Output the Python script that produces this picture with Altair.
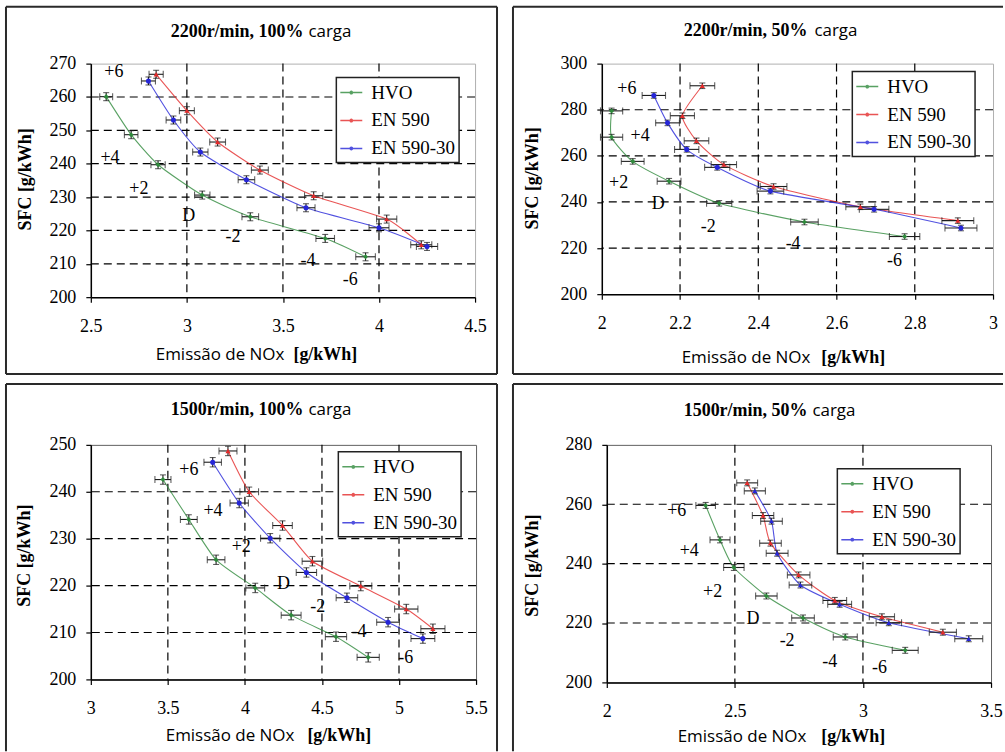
import altair as alt
import pandas as pd

SERIF = "Liberation Serif"
SANS = "Open Sans"
SERIES = ["HVO", "EN 590", "EN 590-30"]
COLORS = ["#2f8a3c", "#e42a2a", "#2626d8"]
TIMING = ["+6", "+4", "+2", "D", "-2", "-4", "-6"]

# ---- Panel 1: 2200 r/min, 100% ----
P1_HVO_X = [2.58, 2.71, 2.85, 3.08, 3.33, 3.72, 3.93]
P1_HVO_Y = [260.1, 248.7, 239.7, 230.6, 224.1, 217.6, 212.1]
P1_EN_X = [2.84, 3.00, 3.16, 3.38, 3.66, 4.04, 4.22]
P1_EN_Y = [266.8, 255.9, 246.5, 238.1, 230.4, 223.4, 215.7]
P1_EN30_X = [2.80, 2.93, 3.07, 3.31, 3.62, 4.00, 4.25]
P1_EN30_Y = [264.8, 253.1, 243.5, 235.2, 226.8, 220.8, 215.2]
P1_LBL_X = [2.62, 2.60, 2.75, 3.01, 3.24, 3.63, 3.85]
P1_LBL_Y = [267.4, 241.7, 232.5, 224.4, 217.9, 210.7, 205.0]

# ---- Panel 2: 2200 r/min, 50% ----
P2_HVO_X = [2.025, 2.025, 2.079, 2.172, 2.300, 2.518, 2.774]
P2_HVO_Y = [279.5, 268.1, 257.6, 249.0, 239.4, 231.3, 225.0]
P2_EN_X = [2.257, 2.206, 2.242, 2.312, 2.439, 2.661, 2.910]
P2_EN_Y = [290.4, 277.4, 266.5, 256.2, 246.7, 237.9, 231.9]
P2_EN30_X = [2.133, 2.168, 2.217, 2.295, 2.431, 2.696, 2.918]
P2_EN30_Y = [286.2, 274.3, 262.8, 255.0, 244.7, 236.8, 228.7]
P2_LBL_X = [2.064, 2.098, 2.043, 2.144, 2.272, 2.489, 2.748]
P2_LBL_Y = [288.8, 268.7, 248.3, 238.9, 229.2, 221.7, 214.2]

# ---- Panel 3: 1500 r/min, 100% ----
P3_HVO_X = [3.468, 3.636, 3.813, 4.067, 4.300, 4.591, 4.800]
P3_HVO_Y = [242.6, 234.1, 225.5, 219.5, 213.7, 209.1, 204.7]
P3_EN_X = [3.890, 4.028, 4.244, 4.438, 4.752, 5.047, 5.220]
P3_EN_Y = [248.7, 240.0, 232.8, 225.2, 219.9, 215.0, 210.8]
P3_EN30_X = [3.791, 3.963, 4.164, 4.399, 4.662, 4.929, 5.155]
P3_EN30_Y = [246.3, 237.6, 230.1, 222.8, 217.4, 212.2, 208.7]
P3_LBL_X = [3.636, 3.793, 3.976, 4.250, 4.472, 4.741, 5.043]
P3_LBL_Y = [244.7, 235.8, 228.3, 220.3, 215.4, 210.1, 204.5]

# ---- Panel 4: 1500 r/min, 50% ----
P4_HVO_X = [2.386, 2.442, 2.496, 2.623, 2.766, 2.931, 3.165]
P4_HVO_Y = [259.6, 248.0, 238.7, 229.1, 221.7, 215.3, 210.8]
P4_EN_X = [2.548, 2.610, 2.639, 2.749, 2.890, 3.074, 3.312]
P4_EN_Y = [267.2, 256.2, 246.9, 236.2, 227.6, 222.1, 216.9]
P4_EN30_X = [2.578, 2.643, 2.665, 2.756, 2.909, 3.101, 3.413]
P4_EN30_Y = [264.5, 254.3, 243.5, 232.8, 226.3, 220.1, 214.7]
P4_LBL_X = [2.273, 2.322, 2.413, 2.571, 2.704, 2.870, 3.065]
P4_LBL_Y = [257.7, 244.4, 230.6, 221.4, 213.8, 206.8, 204.8]

PANELS = [
    dict(title=("2200r/min, 100%", "carga"),
         xs=[P1_HVO_X, P1_EN_X, P1_EN30_X], ys=[P1_HVO_Y, P1_EN_Y, P1_EN30_Y],
         lx=P1_LBL_X, ly=P1_LBL_Y,
         xdom=[2.5, 4.5], ydom=[200, 270],
         xticks=[2.5, 3, 3.5, 4, 4.5], yticks=[200, 210, 220, 230, 240, 250, 260, 270],
         xgrid=[3, 3.5, 4], ygrid=[210, 220, 230, 240, 250, 260],
         shapes=["diamond", "triangle-up", "circle"], xerr=0.013, yerr=1.2,
         w=385, h=234, box=(-85, -57, 407, 311), sides="tlrb",
         legend=(246, 14), tpos=(213, 218, -27), xtpos=(194, 203, 63), ytpos=(-65, 116),
         vstroke="#b0b0b0"),
    dict(title=("2200r/min, 50%", "carga"),
         xs=[P2_HVO_X, P2_EN_X, P2_EN30_X], ys=[P2_HVO_Y, P2_EN_Y, P2_EN30_Y],
         lx=P2_LBL_X, ly=P2_LBL_Y,
         xdom=[2, 3], ydom=[200, 300],
         xticks=[2, 2.2, 2.4, 2.6, 2.8, 3], yticks=[200, 220, 240, 260, 280, 300],
         xgrid=[2.2, 2.4, 2.6, 2.8], ygrid=[220, 240, 260, 280],
         shapes=["diamond", "triangle-up", "circle"], xerr=0.014, yerr=1.2,
         w=392, h=231, box=(-89, -57, 402, 311), sides="tlb",
         legend=(251, 8), tpos=(206, 213, -28), xtpos=(209, 220, 69), ytpos=(-69, 115),
         vstroke="#b0b0b0"),
    dict(title=("1500r/min, 100%", "carga"),
         xs=[P3_HVO_X, P3_EN_X, P3_EN30_X], ys=[P3_HVO_Y, P3_EN_Y, P3_EN30_Y],
         lx=P3_LBL_X, ly=P3_LBL_Y,
         xdom=[3, 5.5], ydom=[200, 250],
         xticks=[3, 3.5, 4, 4.5, 5, 5.5], yticks=[200, 210, 220, 230, 240, 250],
         xgrid=[3.5, 4, 4.5, 5], ygrid=[210, 220, 230, 240],
         shapes=["diamond", "triangle-up", "circle"], xerr=0.015, yerr=1.0,
         w=386, h=235, box=(-85, -61, 407, 307), sides="tlr",
         legend=(248, 7), tpos=(213, 218, -30), xtpos=(204, 217, 62), ytpos=(-66, 111),
         vstroke="#606060"),
    dict(title=("1500r/min, 50%", "carga"),
         xs=[P4_HVO_X, P4_EN_X, P4_EN30_X], ys=[P4_HVO_Y, P4_EN_Y, P4_EN30_Y],
         lx=P4_LBL_X, ly=P4_LBL_Y,
         xdom=[2, 3.5], ydom=[200, 280],
         xticks=[2, 2.5, 3, 3.5], yticks=[200, 220, 240, 260, 280],
         xgrid=[2.5, 3], ygrid=[220, 240, 260],
         shapes=["diamond", "triangle-up", "triangle-up"], xerr=0.016, yerr=1.0,
         w=385, h=238, box=(-94, -61, 397, 307), sides="tl",
         legend=(231, 24), tpos=(201, 206, -29), xtpos=(200, 215, 60), ytpos=(-74, 121),
         vstroke="#606060"),
]

LEG_PATH = "M-1.1,0L1.1,0M-0.12,0A0.12,0.12,0,1,0,0.12,0A0.12,0.12,0,1,0,-0.12,0"
EB = "#1e1e1e"
DUMMY = pd.DataFrame({"d": [0]})


def text_layer(txt, x, y, font, size, weight="normal", align="left", angle=0, baseline="alphabetic"):
    return alt.Chart(DUMMY).mark_text(
        text=txt, font=font, fontSize=size, fontWeight=weight, align=align,
        baseline=baseline, angle=angle, color="black"
    ).encode(x=alt.value(x), y=alt.value(y))


def side(x1, y1, x2, y2):
    return alt.Chart(DUMMY).mark_rule(color="#2a2a2a", strokeWidth=2).encode(
        x=alt.value(x1), y=alt.value(y1), x2=alt.value(x2), y2=alt.value(y2))


def build_panel(p):
    rows = []
    for s, xs, ys in zip(SERIES, p["xs"], p["ys"]):
        for i, (x, y) in enumerate(zip(xs, ys)):
            rows.append(dict(series=s, idx=i, x=x, y=y,
                             xlo=x * (1 - p["xerr"]), xhi=x * (1 + p["xerr"]),
                             ylo=y - p["yerr"], yhi=y + p["yerr"]))
    df = pd.DataFrame(rows)
    lbl = pd.DataFrame(dict(x=p["lx"], y=p["ly"], t=TIMING))

    xsc = alt.Scale(domain=p["xdom"], nice=False, zero=False)
    ysc = alt.Scale(domain=p["ydom"], nice=False, zero=False)
    xaxis = alt.Axis(values=p["xticks"], format=".1~f", title=None, grid=False,
                     domainColor="black", domainWidth=1.5, tickColor="black",
                     tickSize=5, tickWidth=1.2, labelFont=SERIF, labelFontSize=18,
                     labelColor="black", labelPadding=15, labelFlush=False,
                     labelOverlap=False)
    yaxis = alt.Axis(values=p["yticks"], format="d", title=None, grid=False,
                     domainColor="black", domainWidth=1.5, tickColor="black",
                     tickSize=5, tickWidth=1.2, labelFont=SERIF, labelFontSize=18,
                     labelColor="black", labelPadding=10, labelFlush=False,
                     labelOverlap=False)

    def X(f):
        return alt.X(f, type="quantitative", scale=xsc, axis=xaxis, title=None)

    def Y(f):
        return alt.Y(f, type="quantitative", scale=ysc, axis=yaxis, title=None)

    legend = alt.Legend(title=None, orient="none", legendX=p["legend"][0],
                        legendY=p["legend"][1], strokeColor="#222", fillColor="white",
                        padding=4, symbolType=LEG_PATH, symbolSize=400,
                        symbolStrokeWidth=1.5, labelFont=SERIF, labelFontSize=19,
                        labelColor="black", rowPadding=7, labelOffset=9)

    gx = alt.Chart(pd.DataFrame({"v": p["xgrid"]})).mark_rule(
        color="black", strokeWidth=1.2, strokeDash=[8, 5]).encode(x=X("v"))
    gy = alt.Chart(pd.DataFrame({"v": p["ygrid"]})).mark_rule(
        color="black", strokeWidth=1.2, strokeDash=[8, 5]).encode(y=Y("v"))

    base = alt.Chart(df)
    line = base.mark_line(strokeWidth=1.1, interpolate="cardinal", tension=0.4, opacity=0.8).encode(
        x=X("x"), y=Y("y"),
        color=alt.Color("series:N", scale=alt.Scale(domain=SERIES, range=COLORS), legend=legend),
        order="idx:Q")
    xbar = base.mark_rule(color=EB, strokeWidth=1.1).encode(x=X("xlo"), x2="xhi", y=Y("y"))
    xcap1 = base.mark_tick(orient="vertical", size=7, thickness=1.1, color=EB).encode(x=X("xlo"), y=Y("y"))
    xcap2 = base.mark_tick(orient="vertical", size=7, thickness=1.1, color=EB).encode(x=X("xhi"), y=Y("y"))
    ybar = base.mark_rule(color=EB, strokeWidth=1.1).encode(x=X("x"), y=Y("ylo"), y2="yhi")
    ycap1 = base.mark_tick(orient="horizontal", size=6, thickness=1.1, color=EB).encode(x=X("x"), y=Y("ylo"))
    ycap2 = base.mark_tick(orient="horizontal", size=6, thickness=1.1, color=EB).encode(x=X("x"), y=Y("yhi"))
    pts = []
    for s, c, shp in zip(SERIES, COLORS, p["shapes"]):
        pts.append(base.transform_filter(alt.datum.series == s).mark_point(
            filled=True, size=26, opacity=1, shape=shp, color=c).encode(x=X("x"), y=Y("y")))
    labels = alt.Chart(lbl).mark_text(font=SERIF, fontSize=18, color="black",
                                      align="center", baseline="middle").encode(
        x=X("x"), y=Y("y"), text="t:N")

    bx, tx, ty = p["tpos"]
    xa, xb, xy = p["xtpos"]
    yx, yy = p["ytpos"]
    h = p["h"]
    texts = [
        text_layer(p["title"][0], bx, ty, SERIF, 18, "bold", "right"),
        text_layer(p["title"][1], tx, ty, SANS, 17, "normal", "left"),
        text_layer("Emissão de NOx", xa, h + xy, SANS, 17, "normal", "right"),
        text_layer("[g/kWh]", xb, h + xy, SERIF, 18, "bold", "left"),
        text_layer("SFC [g/kWh]", yx, yy, SERIF, 18, "bold", "center", 270, "middle"),
    ]
    L, T, R, B = p["box"]
    sides = []
    if "t" in p["sides"]:
        sides.append(side(L, T, R, T))
    if "l" in p["sides"]:
        sides.append(side(L, T, L, B))
    if "r" in p["sides"]:
        sides.append(side(R, T, R, B))
    if "b" in p["sides"]:
        sides.append(side(L, B, R, B))

    return alt.layer(
        gx, gy, line, xbar, xcap1, xcap2, ybar, ycap1, ycap2, *pts, labels, *texts, *sides
    ).properties(
        width=p["w"], height=p["h"],
        view=alt.ViewBackground(stroke=p["vstroke"], strokeWidth=1)
    )


panels = [build_panel(p) for p in PANELS]


def row(a, b):
    return alt.hconcat(a, b, spacing=12).resolve_scale(
        x="independent", y="independent"
    ).resolve_legend(color="independent")


chart = alt.vconcat(row(panels[0], panels[1]), row(panels[2], panels[3]), spacing=6).resolve_scale(
    x="independent", y="independent"
).resolve_legend(color="independent").properties(
    padding={"left": 4, "top": 4, "right": 0, "bottom": 0}, background="white"
).configure_legend(strokeWidth=1.5)

chart.save("out.html", embed_options={"renderer": "svg", "actions": False})
